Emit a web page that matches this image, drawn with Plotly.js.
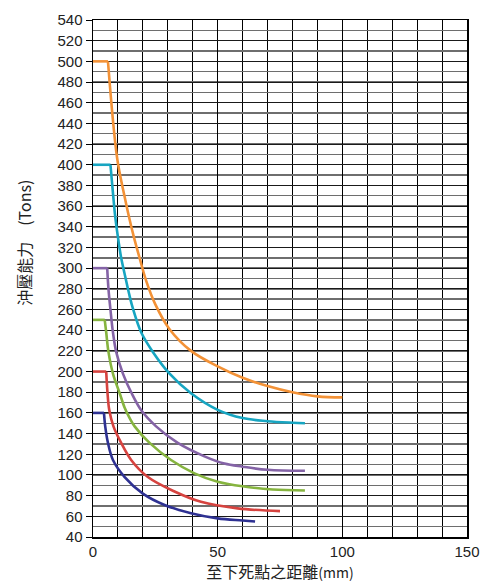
<!DOCTYPE html>
<html>
<head>
<meta charset="utf-8">
<script src="https://cdn.plot.ly/plotly-3.0.1.min.js"></script>
<style>html,body{margin:0;padding:0;background:#fff;}#chart{width:498px;height:584px;}</style>
</head>
<body>
<div id="chart"></div>
<script>
// Series: distance to bottom dead centre (mm) vs press capacity (Tons)
const x500 = [0, 6, 9.7, 12.6, 14.4, 16.4, 18.9, 21.3, 25, 30.7, 39.3, 50, 60, 70, 80, 90, 100];
const y500 = [500, 500, 406, 370, 350, 330, 308, 288, 265, 241, 220, 205, 194, 186, 180, 176, 175];

const x400 = [0, 7, 8.1, 8.9, 10, 11.3, 13.1, 14.7, 16, 19.3, 24, 30.7, 39.3, 50, 60, 70, 80, 85];
const y400 = [400, 400, 370, 350, 330, 310, 290, 273, 261, 238, 219, 198, 179, 163, 155, 152, 150.5, 150];

const x300 = [0, 5.7, 6.2, 7, 8, 9.3, 12, 15.5, 19.5, 25.3, 34, 44.7, 52.7, 60, 70, 85];
const y300 = [300, 300, 280, 260, 238, 219, 198, 179, 162, 147, 131, 118, 111, 108, 105, 104];

const x250 = [0, 4.7, 5.3, 6.2, 8, 10.7, 12.7, 14.7, 16.7, 22.7, 31.3, 40.7, 50, 60, 72, 85];
const y250 = [250, 250, 238, 219, 198, 179, 165, 155, 147, 131, 114.5, 101.6, 93.5, 89, 86, 85];

const x200 = [0, 5.3, 5.8, 6.5, 8.2, 11.3, 15.3, 22, 32.7, 43.3, 58, 75];
const y200 = [200, 200, 180, 163, 147, 131, 114.5, 98, 84, 74, 67.7, 65];

const x160 = [0, 4.4, 4.9, 6, 8, 12.7, 20, 28.7, 39.3, 50, 60, 65];
const y160 = [160, 160, 147, 131, 114.5, 98, 82, 71, 63, 58, 56, 55];

const xTicks = [0, 50, 100, 150];
const yTicks = [40, 60, 80, 100, 120, 140, 160, 180, 200, 220, 240, 260, 280, 300, 320, 340, 360, 380, 400, 420, 440, 460, 480, 500, 520, 540];

const xTitle = '至下死點之距離<span style="font-size:14px">(mm)</span>';
const yTitle = '沖壓能力　(Tons)';

const series = [
  {x: x500, y: y500, color: '#F39237', name: '500'},
  {x: x400, y: y400, color: '#17A5C1', name: '400'},
  {x: x300, y: y300, color: '#8463A6', name: '300'},
  {x: x250, y: y250, color: '#86B43F', name: '250'},
  {x: x200, y: y200, color: '#D6433F', name: '200'},
  {x: x160, y: y160, color: '#2E3192', name: '160'}
];

const traces = [];
series.forEach(s => {
  // flat (rated capacity) part
  traces.push({
    type: 'scatter', mode: 'lines', x: s.x.slice(0, 2), y: s.y.slice(0, 2), name: s.name,
    line: {color: s.color, width: 2.6, shape: 'linear'}, hoverinfo: 'x+y'
  });
  // falling curve part
  traces.push({
    type: 'scatter', mode: 'lines', x: s.x.slice(1), y: s.y.slice(1), name: s.name,
    line: {color: s.color, width: 2.6, shape: 'spline', smoothing: 1}, hoverinfo: 'x+y'
  });
});

const font = 'Liberation Sans, Arial, "Noto Sans CJK TC", sans-serif';

const layout = {
  width: 498, height: 584,
  margin: {l: 93, r: 31, t: 20, b: 47, pad: 0},
  paper_bgcolor: '#ffffff', plot_bgcolor: '#ffffff',
  showlegend: false,
  font: {family: font, color: '#222', size: 15},
  xaxis: {
    range: [0, 150], tickvals: xTicks, ticktext: xTicks.map(String),
    showgrid: true, gridcolor: '#000', gridwidth: 1,
    minor: {dtick: 10, showgrid: true, gridcolor: '#000', gridwidth: 1, ticks: ''},
    showline: true, linecolor: '#000', linewidth: 1.5, mirror: true,
    ticks: '', zeroline: false,
    tickfont: {size: 15, family: font, color: '#222'},
    title: {text: xTitle, font: {size: 16, family: '"Noto Sans CJK TC", Liberation Sans, sans-serif', color: '#222'}, standoff: 4},
    fixedrange: true
  },
  yaxis: {
    range: [40, 540], tickvals: yTicks, ticktext: yTicks.map(String),
    showgrid: true, gridcolor: '#1a1a1a', gridwidth: 1,
    minor: {dtick: 10, showgrid: true, gridcolor: '#6e6e6e', gridwidth: 1.4, ticks: ''},
    showline: true, linecolor: '#000', linewidth: 1.5, mirror: true,
    ticks: 'outside', ticklen: 6, tickcolor: '#000', tickwidth: 1,
    zeroline: false,
    tickfont: {size: 15, family: font, color: '#222'},
    fixedrange: true
  },
  annotations: [{
    text: yTitle, textangle: -90, showarrow: false,
    xref: 'paper', yref: 'paper', x: 0, y: 0.569, xanchor: 'center', yanchor: 'middle',
    xshift: -69,
    font: {size: 16, family: '"Noto Sans CJK TC", Liberation Sans, sans-serif', color: '#222'}
  }]
};

Plotly.newPlot('chart', traces, layout, {displayModeBar: false, staticPlot: true});
</script>
</body>
</html>
